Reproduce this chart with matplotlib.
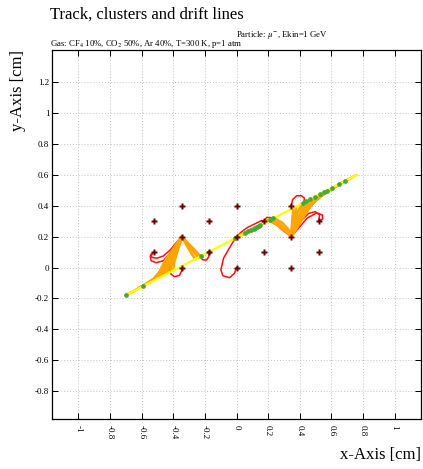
import matplotlib
matplotlib.use("Agg")
import matplotlib.pyplot as plt

plt.rcParams['font.family'] = ['Liberation Serif', 'DejaVu Serif']
plt.rcParams['mathtext.fontset'] = 'stix'

# wires (x, y) in cm
wire_x = [-0.52, -0.52, -0.346, -0.346, -0.346, -0.173, -0.173, 0.0, 0.0, 0.0,
          0.173, 0.173, 0.346, 0.346, 0.346, 0.52, 0.52]
wire_y = [0.1, 0.3, 0.0, 0.2, 0.4, 0.1, 0.3, 0.0, 0.2, 0.4,
          0.1, 0.3, 0.0, 0.2, 0.4, 0.1, 0.3]

# particle track
track_x = [-0.70, 0.76]
track_y = [-0.18, 0.60]

# clusters on the track
cluster_x = [-0.70, -0.59, -0.225, -0.171, -0.008, 0.055, 0.075, 0.09, 0.108, 0.12,
             0.13, 0.14, 0.15, 0.213, 0.234, 0.42, 0.441, 0.466, 0.498, 0.53,
             0.555, 0.572, 0.604, 0.646, 0.688]
cluster_y = [-0.18, -0.122, 0.073, 0.102, 0.19, 0.224, 0.234, 0.242, 0.252, 0.258,
             0.264, 0.269, 0.274, 0.308, 0.319, 0.418, 0.429, 0.442, 0.459, 0.476,
             0.49, 0.499, 0.516, 0.539, 0.561]

# electron drift lines, left anode (-0.346, 0.2)
e_left = [
    [(-0.70, -0.18), (-0.61, -0.13), (-0.535, -0.085), (-0.49, -0.035), (-0.46, 0.03), (-0.42, 0.09), (-0.377, 0.157), (-0.346, 0.2)],
    [(-0.66, -0.16), (-0.58, -0.11), (-0.52, -0.07), (-0.48, -0.02), (-0.45, 0.04), (-0.41, 0.10), (-0.37, 0.16), (-0.346, 0.2)],
    [(-0.62, -0.135), (-0.55, -0.095), (-0.50, -0.055), (-0.47, 0.0), (-0.44, 0.06), (-0.40, 0.12), (-0.346, 0.2)],
    [(-0.58, -0.115), (-0.52, -0.075), (-0.48, -0.03), (-0.45, 0.02), (-0.42, 0.08), (-0.38, 0.14), (-0.346, 0.2)],
    [(-0.55, -0.10), (-0.50, -0.06), (-0.465, -0.02), (-0.44, 0.03), (-0.41, 0.09), (-0.346, 0.2)],
    [(-0.52, -0.08), (-0.48, -0.05), (-0.455, -0.01), (-0.43, 0.05), (-0.39, 0.12), (-0.346, 0.2)],
    [(-0.49, -0.065), (-0.46, -0.04), (-0.44, 0.0), (-0.415, 0.06), (-0.38, 0.13), (-0.346, 0.2)],
    [(-0.46, -0.05), (-0.445, -0.02), (-0.425, 0.04), (-0.39, 0.11), (-0.346, 0.2)],
    [(-0.44, -0.04), (-0.43, 0.0), (-0.41, 0.06), (-0.37, 0.14), (-0.346, 0.2)],
    [(-0.42, -0.03), (-0.41, 0.02), (-0.39, 0.08), (-0.36, 0.15), (-0.346, 0.2)],
    [(-0.40, -0.02), (-0.395, 0.03), (-0.375, 0.10), (-0.346, 0.2)],
    [(-0.225, 0.07), (-0.28, 0.13), (-0.346, 0.2)],
    [(-0.24, 0.062), (-0.29, 0.125), (-0.346, 0.2)],
    [(-0.26, 0.052), (-0.30, 0.115), (-0.346, 0.2)],
]

# electron drift lines, middle anode (0, 0.2)
e_mid = [
    [(0.15, 0.275), (0.10, 0.25), (0.05, 0.225), (0.0, 0.2)],
    [(0.14, 0.272), (0.09, 0.24), (0.04, 0.215), (0.0, 0.2)],
    [(0.12, 0.262), (0.07, 0.232), (0.03, 0.212), (0.0, 0.2)],
    [(0.10, 0.25), (0.06, 0.23), (0.02, 0.205), (0.0, 0.2)],
]

# electron drift lines, right anode (0.346, 0.2)
e_right = [
    [(0.19, 0.31), (0.25, 0.28), (0.31, 0.235), (0.346, 0.2)],
    [(0.21, 0.315), (0.27, 0.285), (0.32, 0.24), (0.346, 0.2)],
    [(0.23, 0.325), (0.29, 0.29), (0.33, 0.245), (0.346, 0.2)],
    [(0.76, 0.60), (0.70, 0.567), (0.60, 0.51), (0.53, 0.465), (0.48, 0.42), (0.43, 0.34), (0.39, 0.28), (0.346, 0.2)],
    [(0.72, 0.578), (0.65, 0.54), (0.57, 0.49), (0.50, 0.44), (0.45, 0.385), (0.41, 0.32), (0.37, 0.26), (0.346, 0.2)],
    [(0.68, 0.557), (0.61, 0.515), (0.54, 0.465), (0.48, 0.415), (0.43, 0.35), (0.39, 0.28), (0.346, 0.2)],
    [(0.64, 0.535), (0.57, 0.49), (0.51, 0.445), (0.46, 0.39), (0.42, 0.33), (0.38, 0.26), (0.346, 0.2)],
    [(0.60, 0.51), (0.54, 0.47), (0.49, 0.425), (0.44, 0.36), (0.40, 0.29), (0.346, 0.2)],
    [(0.57, 0.495), (0.52, 0.455), (0.47, 0.405), (0.43, 0.34), (0.39, 0.27), (0.346, 0.2)],
    [(0.53, 0.47), (0.49, 0.43), (0.45, 0.38), (0.41, 0.31), (0.37, 0.25), (0.346, 0.2)],
    [(0.50, 0.45), (0.46, 0.40), (0.42, 0.34), (0.38, 0.27), (0.346, 0.2)],
    [(0.47, 0.44), (0.43, 0.38), (0.40, 0.32), (0.37, 0.26), (0.346, 0.2)],
    [(0.44, 0.425), (0.41, 0.37), (0.38, 0.30), (0.36, 0.25), (0.346, 0.2)],
    [(0.41, 0.41), (0.385, 0.35), (0.365, 0.28), (0.346, 0.2)],
    [(0.38, 0.395), (0.365, 0.33), (0.352, 0.26), (0.346, 0.2)],
    [(0.36, 0.385), (0.352, 0.30), (0.346, 0.2)],
]

# ion drift lines
ion_lines = [
    [(-0.346, 0.2), (-0.38, 0.16), (-0.42, 0.113), (-0.462, 0.075), (-0.504, 0.06), (-0.535, 0.066), (-0.542, 0.085), (-0.52, 0.1)],
    [(-0.346, 0.2), (-0.39, 0.15), (-0.42, 0.092), (-0.462, 0.044), (-0.508, 0.031), (-0.54, 0.044), (-0.546, 0.074), (-0.52, 0.1)],
    [(-0.346, 0.2), (-0.39, 0.11), (-0.42, 0.038), (-0.424, -0.005), (-0.415, -0.042), (-0.392, -0.06), (-0.361, -0.051), (-0.346, -0.02), (-0.346, 0.0)],
    [(-0.346, 0.2), (-0.28, 0.13), (-0.23, 0.075), (-0.215, 0.05), (-0.19, 0.048), (-0.175, 0.07), (-0.173, 0.1)],
    [(0.0, 0.2), (-0.008, 0.189), (-0.04, 0.135), (-0.082, 0.06), (-0.099, -0.016), (-0.086, -0.053), (-0.044, -0.066), (-0.013, -0.038), (0.0, 0.0)],
    [(0.0, 0.2), (0.03, 0.23), (0.07, 0.26), (0.12, 0.285), (0.16, 0.305), (0.173, 0.3)],
    [(0.0, 0.2), (0.05, 0.215), (0.10, 0.24), (0.14, 0.265), (0.165, 0.285), (0.173, 0.3)],
    [(0.346, 0.2), (0.277, 0.254), (0.245, 0.297), (0.224, 0.323), (0.192, 0.325), (0.173, 0.3)],
    [(0.346, 0.2), (0.36, 0.30), (0.39, 0.37), (0.425, 0.42), (0.43, 0.45), (0.41, 0.465), (0.38, 0.465), (0.355, 0.44), (0.346, 0.4)],
    [(0.346, 0.2), (0.403, 0.297), (0.456, 0.351), (0.498, 0.362), (0.525, 0.34), (0.52, 0.3)],
    [(0.346, 0.2), (0.382, 0.243), (0.446, 0.319), (0.509, 0.355), (0.544, 0.34), (0.544, 0.314), (0.52, 0.3)],
]

x_ticks = [-1, -0.8, -0.6, -0.4, -0.2, 0, 0.2, 0.4, 0.6, 0.8, 1]
x_labels = ['-1', '-0.8', '-0.6', '-0.4', '-0.2', '0', '0.2', '0.4', '0.6', '0.8', '1']
y_ticks = [-0.8, -0.6, -0.4, -0.2, 0, 0.2, 0.4, 0.6, 0.8, 1, 1.2]
y_labels = ['-0.8', '-0.6', '-0.4', '-0.2', '0', '0.2', '0.4', '0.6', '0.8', '1', '1.2']

fig = plt.figure(figsize=(4.23, 4.69), dpi=100)
ax = fig.add_axes([52/423, 1-419/469, 369/423, 369/469])

for line in ion_lines:
    xs = [p[0] for p in line]
    ys = [p[1] for p in line]
    ax.plot(xs, ys, color='#ff1010', lw=1.1, solid_joinstyle='round', zorder=3)

for group in (e_left, e_mid, e_right):
    for line in group:
        xs = [p[0] for p in line]
        ys = [p[1] for p in line]
        ax.plot(xs, ys, color='#ffa500', lw=1.8, solid_joinstyle='round',
                solid_capstyle='round', zorder=4)

ax.plot(track_x, track_y, color='#ffff00', lw=1.6, zorder=5)
ax.plot(cluster_x, cluster_y, 'o', color='#44aa33', ms=3.4, mec='none', zorder=6)
ax.plot(wire_x, wire_y, 'P', color='#6a0000', ms=5, mec='none', zorder=7)

ax.set_xlim(-1.167, 1.167)
ax.set_ylim(-0.982, 1.41)
ax.set_xticks(x_ticks)
ax.set_xticklabels(x_labels, rotation=-90, fontsize=6.5)
ax.set_yticks(y_ticks)
ax.set_yticklabels(y_labels, fontsize=6.5)
ax.tick_params(direction='in', length=4, width=0.7, top=True, right=True)
ax.tick_params(axis='x', pad=4)
ax.tick_params(axis='y', pad=2)
ax.grid(True, color='#c0c0c0', linestyle=(0, (1, 2)), linewidth=0.7)
for s in ax.spines.values():
    s.set_linewidth(0.9)

ax.set_xlabel('x-Axis [cm]', fontsize=12, loc='right')
ax.xaxis.set_label_coords(1.0, -0.075)
ax.set_ylabel('y-Axis [cm]', fontsize=12, loc='top')
ax.yaxis.set_label_coords(-0.07, 1.0)

fig.text(50/423, 1-19/469, 'Track, clusters and drift lines', fontsize=12, va='baseline')
fig.text(236/423, 1-37/469, r'Particle: $\mu^{-}$, Ekin=1 GeV', fontsize=6.3, va='baseline')
fig.text(50/423, 1-46.5/469, r'Gas: CF$_4$ 10%, CO$_2$ 50%, Ar 40%, T=300 K, p=1 atm',
         fontsize=6.3, va='baseline')

fig.savefig('out.png', dpi=100)
